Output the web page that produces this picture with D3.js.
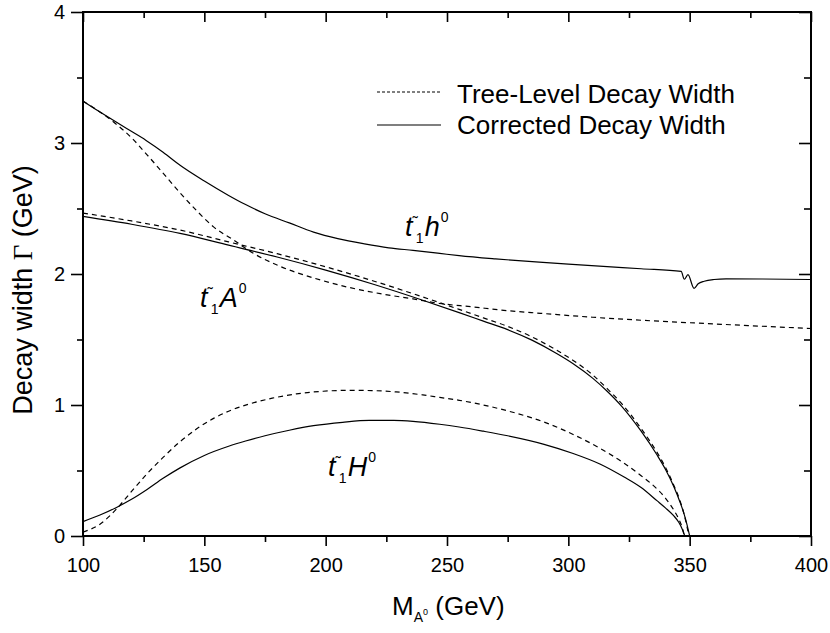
<!DOCTYPE html>
<html>
<head>
<meta charset="utf-8">
<script src="https://cdn.jsdelivr.net/npm/d3@7"></script>
<style>
  body { margin: 0; background: #fff; }
  text { font-family: "Liberation Sans", Arial, sans-serif; fill: #000; }
</style>
</head>
<body>
<svg id="plot"></svg>
<script>
// values: [M_A0 (GeV), width (GeV)]
const h0Corrected = [[100,3.32],[105,3.26],[111,3.19],[118,3.11],[126,3.02],[133,2.93],[140,2.83],[150,2.71],[160,2.60],[167,2.53],[175,2.46],[185,2.39],[195,2.32],[205,2.27],[216,2.23],[226,2.20],[236,2.18],[247,2.157],[255,2.14],[270,2.115],[288,2.09],[300,2.075],[316,2.056],[330,2.04],[346.5,2.02],[347.8,1.96],[349.3,1.995],[351.8,1.89],[353.5,1.925],[356,1.945],[360,1.958],[365,1.963],[380,1.962],[400,1.958]];
const h0Tree = [[100,3.32],[106,3.25],[112.6,3.16],[120,3.04],[126.4,2.91],[133,2.77],[140,2.62],[147,2.48],[153.8,2.36],[162,2.26],[170,2.16],[181,2.06],[195,1.97],[209,1.90],[222.5,1.85],[236,1.81],[247,1.775],[260,1.75],[275,1.72],[288.5,1.70],[310,1.67],[330,1.647],[350,1.628],[371,1.609],[400,1.584]];
const a0Corrected = [[100,2.44],[120,2.38],[140,2.31],[160,2.22],[180,2.13],[200,2.03],[220,1.92],[240,1.80],[255,1.705],[265,1.64],[275,1.575],[285,1.495],[295,1.395],[302,1.315],[310,1.205],[316,1.105],[322,0.99],[330,0.80],[336.5,0.62],[340,0.51],[343.4,0.38],[346,0.26],[347.5,0.18],[349,0.08],[350,0]];
const a0Tree = [[100,2.465],[120,2.405],[140,2.335],[160,2.245],[180,2.155],[200,2.055],[220,1.945],[240,1.825],[255,1.73],[265,1.665],[275,1.60],[285,1.52],[295,1.42],[302,1.34],[310,1.23],[316,1.125],[322,1.01],[330,0.82],[336.5,0.64],[340,0.525],[343.4,0.39],[346,0.27],[347.5,0.18],[348.8,0.08],[349.7,0]];
const bigHCorrected = [[100,0.11],[107,0.16],[114,0.22],[120,0.28],[126.4,0.355],[133,0.44],[140,0.52],[150,0.615],[160,0.685],[167,0.725],[175,0.765],[185,0.807],[195,0.842],[207,0.868],[218,0.882],[228,0.882],[236,0.875],[247,0.853],[255,0.832],[265,0.80],[275,0.765],[290,0.70],[302,0.63],[313,0.55],[323,0.45],[330,0.37],[336.5,0.27],[340,0.215],[343.4,0.155],[345.5,0.105],[347,0.05],[348,0]];
const bigHTree = [[100,0.03],[107,0.09],[114,0.21],[120,0.34],[126.4,0.475],[133,0.60],[140,0.72],[147,0.82],[154,0.90],[161,0.96],[168,1.005],[178,1.052],[188,1.085],[199,1.105],[209,1.112],[219,1.11],[229,1.10],[240,1.077],[247,1.058],[255,1.036],[265,1.00],[275,0.955],[290,0.87],[302,0.775],[313,0.67],[323,0.555],[330,0.46],[336.5,0.36],[340,0.29],[343.4,0.20],[345.5,0.13],[347,0.06],[347.8,0]];

const xMajor = [100,150,200,250,300,350,400];
const xMinor = [125,175,225,275,325,375];
const yMajor = [0,1,2,3,4];
const yMinor = [0.5,1.5,2.5,3.5];
const legendLabels = ["Tree-Level Decay Width", "Corrected Decay Width"];

const svg = d3.select("#plot");
const margin = {top: 12, right: 19, bottom: 97, left: 83};
const width = 830 - margin.left - margin.right;
const height = 633 - margin.top - margin.bottom;
svg.attr("width", 830).attr("height", 633);

const g = svg.append("g").attr("transform", "translate(" + margin.left + "," + margin.top + ")");

const xScale = d3.scaleLinear().domain([100, 400]).range([0, width]);
const yScale = d3.scaleLinear().domain([0, 4]).range([height, 0]);

function styleAxis(sel) {
  sel.select(".domain").remove();
  sel.selectAll(".tick line").attr("stroke", "#000").attr("stroke-width", 1.6);
  sel.selectAll(".tick text").style("font-size", "20px").style("font-family", "Liberation Sans, Arial, sans-serif").attr("fill", "#000");
}

// bottom axis (outward ticks)
g.append("g").attr("transform", "translate(0," + height + ")")
  .call(d3.axisBottom(xScale).tickValues(xMajor).tickSize(10).tickPadding(12).tickFormat(d3.format("d")))
  .call(styleAxis);
g.append("g").attr("transform", "translate(0," + height + ")")
  .call(d3.axisBottom(xScale).tickValues(xMinor).tickSize(6).tickFormat(""))
  .call(styleAxis);
// top axis (inward ticks)
g.append("g").call(d3.axisBottom(xScale).tickValues(xMajor).tickSize(10).tickFormat("")).call(styleAxis);
g.append("g").call(d3.axisBottom(xScale).tickValues(xMinor).tickSize(6).tickFormat("")).call(styleAxis);

// left axis (outward ticks)
g.append("g")
  .call(d3.axisLeft(yScale).tickValues(yMajor).tickSize(12).tickPadding(6).tickFormat(d3.format("d")))
  .call(styleAxis);
g.append("g").call(d3.axisLeft(yScale).tickValues(yMinor).tickSize(6).tickFormat("")).call(styleAxis);
// right axis (inward ticks)
g.append("g").attr("transform", "translate(" + width + ",0)")
  .call(d3.axisLeft(yScale).tickValues(yMajor).tickSize(12).tickFormat("")).call(styleAxis);
g.append("g").attr("transform", "translate(" + width + ",0)")
  .call(d3.axisLeft(yScale).tickValues(yMinor).tickSize(7).tickFormat("")).call(styleAxis);

// frame
g.append("rect").attr("width", width).attr("height", height)
  .attr("fill", "none").attr("stroke", "#000").attr("stroke-width", 2);

const line = d3.line().x(d => xScale(d[0])).y(d => yScale(d[1])).curve(d3.curveMonotoneX);

const series = [
  {data: h0Tree, dash: "5,4"},
  {data: a0Tree, dash: "5,4"},
  {data: bigHTree, dash: "5,4"},
  {data: h0Corrected, dash: null},
  {data: a0Corrected, dash: null},
  {data: bigHCorrected, dash: null}
];
series.forEach(function(s) {
  g.append("path").datum(s.data)
    .attr("d", line)
    .attr("fill", "none")
    .attr("stroke", "#000")
    .attr("stroke-width", 1.2)
    .attr("stroke-dasharray", s.dash);
});

// legend
legendLabels.forEach(function(lab, i) {
  const ly = 92 + i * 33;
  svg.append("line").attr("x1", 377).attr("x2", 441).attr("y1", ly).attr("y2", ly)
    .attr("stroke", "#000").attr("stroke-width", 1.2)
    .attr("stroke-dasharray", i == 0 ? "3,2" : null);
  svg.append("text").attr("x", 457).attr("y", i == 0 ? 103 : 134)
    .style("font-size", "26px").text(lab);
});

// curve labels: t~ with subscript 1, then the Higgs letter with superscript 0
function curveLabel(x, y, letter) {
  const t = svg.append("text").attr("x", x).attr("y", y).style("font-size", "27px");
  t.append("tspan").style("font-style", "italic").text("t");
  t.append("tspan").attr("dx", 0).attr("dy", -8).style("font-size", "16px").text("\u02DC");
  t.append("tspan").attr("dx", -2).attr("dy", 15).style("font-size", "14px").text("1");
  t.append("tspan").attr("dx", 1).attr("dy", -7).style("font-style", "italic").text(letter);
  t.append("tspan").attr("dx", 1).attr("dy", -14).style("font-size", "14px").text("0");
}
curveLabel(405, 236, "h");
curveLabel(200, 307, "A");
curveLabel(328, 476, "H");

// axis titles
const xt = svg.append("text").attr("x", 392).attr("y", 615).style("font-size", "26px");
xt.append("tspan").text("M");
xt.append("tspan").attr("dy", 7).style("font-size", "14px").text("A");
xt.append("tspan").attr("dy", -7).style("font-size", "9px").text("0");
xt.append("tspan").attr("dy", 0).text(" (GeV)");

const yt = svg.append("text")
  .attr("transform", "translate(32,290) rotate(-90)")
  .attr("text-anchor", "middle").style("font-size", "27px");
yt.append("tspan").text("Decay width ");
yt.append("tspan").style("font-family", "Liberation Serif, serif").text("\u0393");
yt.append("tspan").text(" (GeV)");
</script>
</body>
</html>
